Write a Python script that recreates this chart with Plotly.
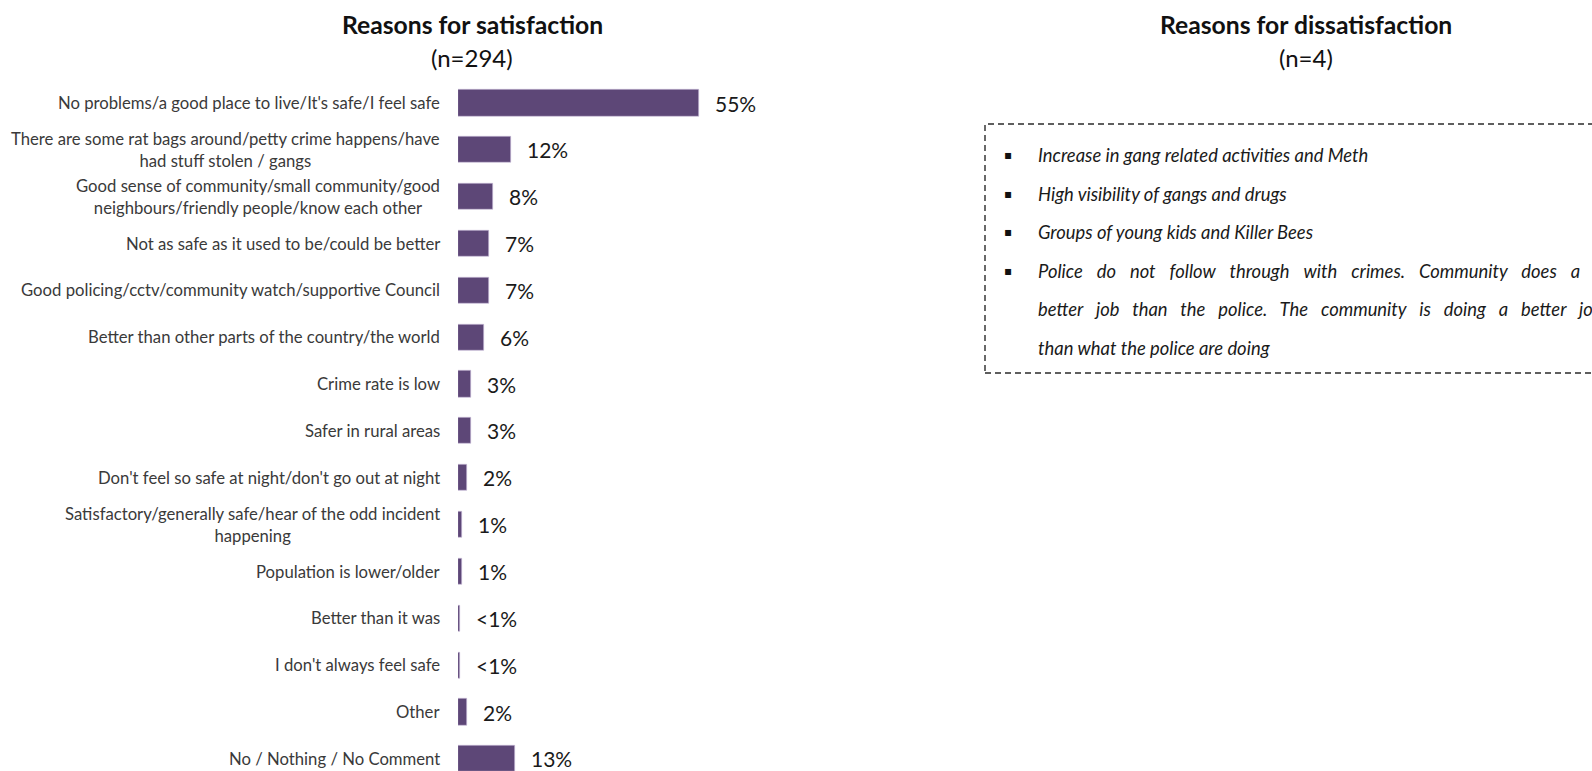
import plotly.graph_objects as go

# Reasons for satisfaction (n=294)
reasons = [
    "No problems/a good place to live/It's safe/I feel safe",
    "There are some rat bags around/petty crime happens/have<br>had stuff stolen / gangs",
    "Good sense of community/small community/good<br>neighbours/friendly people/know each other",
    "Not as safe as it used to be/could be better",
    "Good policing/cctv/community watch/supportive Council",
    "Better than other parts of the country/the world",
    "Crime rate is low",
    "Safer in rural areas",
    "Don't feel so safe at night/don't go out at night",
    "Satisfactory/generally safe/hear of the odd incident<br>happening",
    "Population is lower/older",
    "Better than it was",
    "I don't always feel safe",
    "Other",
    "No / Nothing / No Comment",
]
shares = [55, 12, 8, 7, 7, 6, 3, 3, 2, 1, 1, 0.4, 0.4, 2, 13]
share_labels = ["55%", "12%", "8%", "7%", "7%", "6%", "3%", "3%", "2%",
                "1%", "1%", "<1%", "<1%", "2%", "13%"]

# Reasons for dissatisfaction (n=4)
dissatisfaction = [
    "Increase in gang related activities and Meth",
    "High visibility of gangs and drugs",
    "Groups of young kids and Killer Bees",
    "Police do not follow through with crimes. Community does a "
    "better job than the police. The community is doing a better job "
    "than what the police are doing",
]

W, H = 1592, 771
BAR = "#5d4777"
FONT = "Lato, Open Sans, sans-serif"
ROW = 46.85          # pixel pitch of one category row
TOP = 103 - ROW / 2  # top edge of the first row
NBSP = "\u00a0"
HAIR = "\u200a"


def px(x):
    return x / W


def py(y):
    return 1 - y / H


fig = go.Figure()
fig.add_trace(go.Bar(
    y=reasons, x=shares, orientation="h",
    marker=dict(color=BAR, line=dict(color="#cbbfdb", width=0.6)),
    width=0.56, hoverinfo="skip",
))

ann = []
for r, v, t in zip(reasons, shares, share_labels):
    ann.append(dict(x=0, y=r, xref="x", yref="y", text=r, showarrow=False,
                    xanchor="right", yanchor="middle", align="center",
                    xshift=-16, font=dict(family=FONT, size=16.7, color="#3a3a3a")))
    ann.append(dict(x=v, y=r, xref="x", yref="y", text=t, showarrow=False,
                    xanchor="left", yanchor="middle", xshift=14,
                    font=dict(family=FONT, size=21, color="#1a1a1a")))

# panel titles
for cx, title, n in [(472, "Reasons for satisfaction", "(n=294)"),
                     (1306, "Reasons for dissatisfaction", "(n=4)")]:
    ann.append(dict(x=px(cx), y=py(25), xref="paper", yref="paper",
                    text="<b>" + title + "</b>", showarrow=False,
                    xanchor="center", yanchor="middle",
                    font=dict(family=FONT, size=24.7, color="#111111")))
    ann.append(dict(x=px(cx), y=py(58), xref="paper", yref="paper",
                    text=n, showarrow=False, xanchor="center", yanchor="middle",
                    font=dict(family=FONT, size=24, color="#111111")))

# dissatisfaction list, one text line per row; the long item is justified
words = dissatisfaction[3].split(" ")
lines = [dissatisfaction[0], dissatisfaction[1], dissatisfaction[2],
         (NBSP * 3 + HAIR).join(words[:10]), (NBSP * 3).join(words[10:22]),
         " ".join(words[22:])]
bullets = [True, True, True, True, False, False]
for i, (ln, b) in enumerate(zip(lines, bullets)):
    y = 155 + i * 38.6
    ann.append(dict(x=px(1036), y=py(y), xref="paper", yref="paper",
                    text="<i>" + ln + "</i>", showarrow=False,
                    xanchor="left", yanchor="middle",
                    font=dict(family=FONT, size=18.4, color="#1a1a1a")))
    if b:
        ann.append(dict(x=px(1008), y=py(y), xref="paper", yref="paper",
                        text="\u25aa", showarrow=False,
                        xanchor="center", yanchor="middle",
                        font=dict(family="DejaVu Sans", size=12, color="#111111")))

shapes = [dict(type="rect", xref="paper", yref="paper",
               x0=px(985), x1=px(1640), y0=py(373), y1=py(124),
               line=dict(color="#2a2a2a", width=1.4, dash="6px,4px"))]

fig.update_layout(
    width=W, height=H, margin=dict(l=0, r=0, t=0, b=0),
    paper_bgcolor="white", plot_bgcolor="white", showlegend=False,
    xaxis=dict(domain=[px(458), px(900)], range=[0, (900 - 458) / 4.38],
               visible=False, fixedrange=True),
    yaxis=dict(domain=[0, py(TOP)], range=[(H - TOP) / ROW - 0.5, -0.5],
               visible=False, type="category", categoryorder="array",
               categoryarray=reasons, fixedrange=True),
    annotations=ann, shapes=shapes,
    bargap=0,
)

fig.write_html("out.html")
